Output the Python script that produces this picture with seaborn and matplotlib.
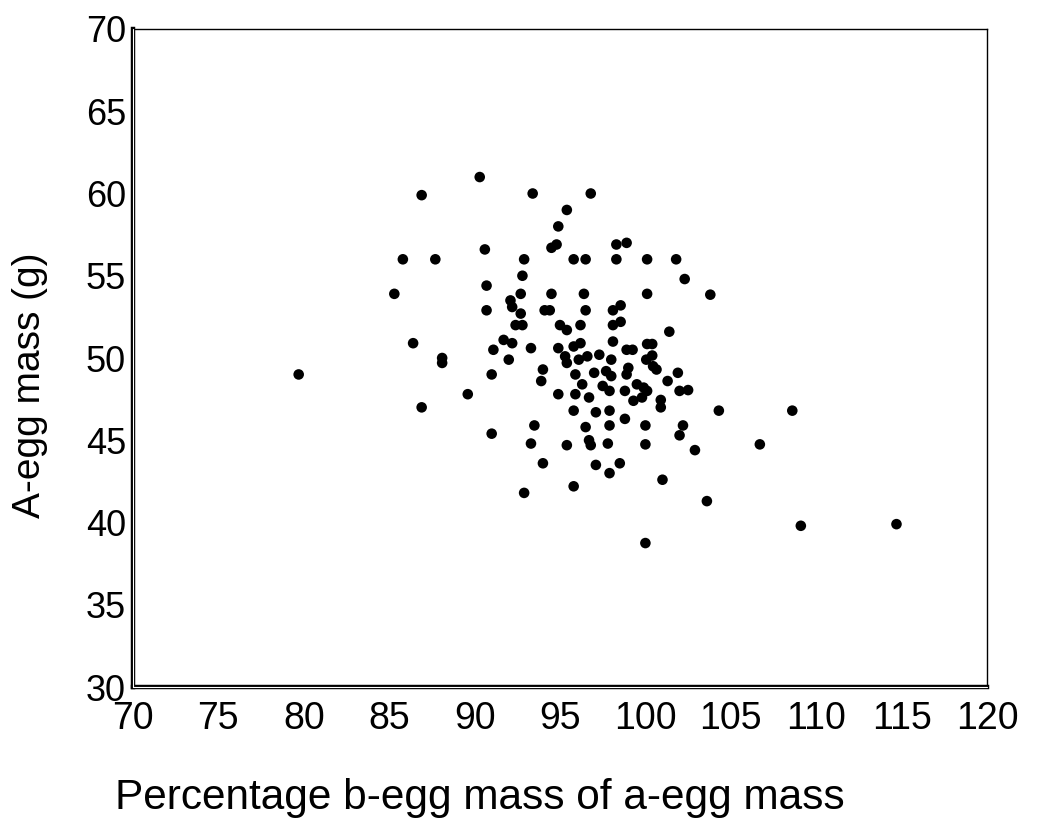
import matplotlib
matplotlib.use("Agg")
import matplotlib.pyplot as plt
import seaborn as sns
import pandas as pd

# Percentage b-egg mass of a-egg mass
pct_b_of_a = [
    79.7, 85.3, 85.8, 86.4, 86.9, 86.9, 87.7, 88.1, 88.1, 89.6,
    90.3, 90.6, 90.7, 90.7, 91.0, 91.0, 91.1, 91.7, 92.1, 92.2,
    92.2, 92.0, 92.7, 92.4, 92.8, 92.9, 92.8, 92.7, 92.9, 93.3,
    93.4, 93.5, 93.3, 94.0, 93.9, 94.0, 94.1, 94.4, 94.5, 94.5,
    94.8, 94.9, 95.4, 94.9, 94.9, 95.0, 95.4, 96.2, 95.3, 95.4,
    95.8, 96.2, 95.8, 96.5, 96.8, 96.4, 96.5, 95.9, 96.1, 96.6,
    96.3, 95.9, 96.7, 95.8, 95.4, 95.8, 96.5, 96.7, 96.8, 97.1,
    97.1, 97.0, 97.3, 98.0, 97.7, 98.0, 99.0, 98.9, 97.5, 97.9,
    98.8, 99.5, 99.9, 100.1, 99.8, 99.3, 100.9, 100.9, 101.3, 101.9,
    102.0, 102.5, 97.9, 97.9, 97.8, 97.9, 98.5, 98.8, 100.0, 100.0,
    102.2, 102.0, 102.9, 101.0, 103.6, 100.0, 104.3, 106.7, 108.6, 109.1,
    114.7, 98.3, 98.9, 98.3, 100.1, 101.8, 102.3, 100.1, 103.8, 101.4,
    98.1, 98.55, 98.1, 98.55, 98.1, 98.9, 99.25, 100.1, 100.4, 100.4,
    100.05, 100.45, 100.65,
]

# A-egg mass (g)
a_egg_mass = [
    49.0, 53.9, 56.0, 50.9, 47.0, 59.9, 56.0, 50.0, 49.7, 47.8,
    61.0, 56.6, 54.4, 52.9, 49.0, 45.4, 50.5, 51.1, 53.5, 53.1,
    50.9, 49.9, 52.7, 52.0, 52.0, 56.0, 55.0, 53.9, 41.8, 50.6,
    60.0, 45.9, 44.8, 49.3, 48.6, 43.6, 52.9, 52.9, 53.9, 56.7,
    56.9, 58.0, 59.0, 47.8, 50.6, 52.0, 51.7, 52.0, 50.1, 49.7,
    50.7, 50.9, 56.0, 56.0, 60.0, 53.9, 52.9, 49.0, 49.9, 50.1,
    48.4, 47.8, 47.6, 46.8, 44.7, 42.2, 45.8, 45.0, 44.7, 43.5,
    46.7, 49.1, 50.2, 49.9, 49.2, 48.9, 49.4, 49.0, 48.3, 48.0,
    48.0, 48.4, 48.2, 48.0, 47.6, 47.4, 47.45, 47.0, 48.6, 49.1,
    48.0, 48.05, 46.8, 45.9, 44.8, 43.0, 43.6, 46.3, 45.9, 44.75,
    45.9, 45.3, 44.4, 42.6, 41.3, 38.75, 46.8, 44.75, 46.8, 39.8,
    39.9, 56.9, 57.0, 56.0, 56.0, 56.0, 54.8, 53.9, 53.85, 51.6,
    52.9, 53.2, 52.0, 52.2, 51.0, 50.5, 50.5, 50.85, 50.85, 50.15,
    49.9, 49.5, 49.3,
]

x_ticks = [70, 75, 80, 85, 90, 95, 100, 105, 110, 115, 120]
y_ticks = [30, 35, 40, 45, 50, 55, 60, 65, 70]

df = pd.DataFrame({"pct": pct_b_of_a, "mass": a_egg_mass})

sns.set_theme(style="white")
plt.rcParams["font.family"] = ["Liberation Sans", "DejaVu Sans"]
plt.rcParams["text.color"] = "black"
plt.rcParams["xtick.color"] = "black"
plt.rcParams["ytick.color"] = "black"

fig = plt.figure(figsize=(10.38, 8.22), dpi=100)
ax = fig.add_axes([133 / 1038, 1 - 687 / 822, (987 - 133) / 1038, (687 - 29) / 822])

sns.scatterplot(data=df, x="pct", y="mass", ax=ax, color="black",
                s=58, linewidth=0, edgecolor="none")

ax.set_xlim(70, 120)
ax.set_ylim(30, 70)
ax.set_xticks(x_ticks)
ax.set_yticks(y_ticks)
ax.set_xticklabels([str(t) for t in x_ticks], fontsize=27, color="black")
ax.set_yticklabels([str(t) for t in y_ticks], fontsize=26, color="black")
ax.tick_params(axis="y", direction="out", length=4, width=3, pad=1, color="black")
ax.tick_params(axis="x", direction="out", length=2, width=2, pad=8, color="black")
ax.set_xlabel("")
ax.set_ylabel("")

for side in ("top", "right"):
    ax.spines[side].set_linewidth(1.0)
    ax.spines[side].set_color("black")
for side in ("left", "bottom"):
    ax.spines[side].set_linewidth(3.2)
    ax.spines[side].set_color("black")
    ax.spines[side].set_zorder(3)

# thin white core gives the left and bottom axis lines their double-rule look
ax.plot([0, 0], [0, 1], transform=ax.transAxes, color="white", lw=0.8,
        clip_on=False, zorder=4)
ax.plot([0, 1], [0, 0], transform=ax.transAxes, color="white", lw=0.8,
        clip_on=False, zorder=4)

fig.text(115 / 1038, 1 - 798 / 822, "Percentage b-egg mass of a-egg mass",
         fontsize=30.5, ha="left", va="center", color="black")
fig.text(30 / 1038, 1 - 385 / 822, "A-egg mass (g)", fontsize=28,
         rotation=90, ha="center", va="center", color="black")

fig.savefig("out.png", dpi=100, facecolor="white")
